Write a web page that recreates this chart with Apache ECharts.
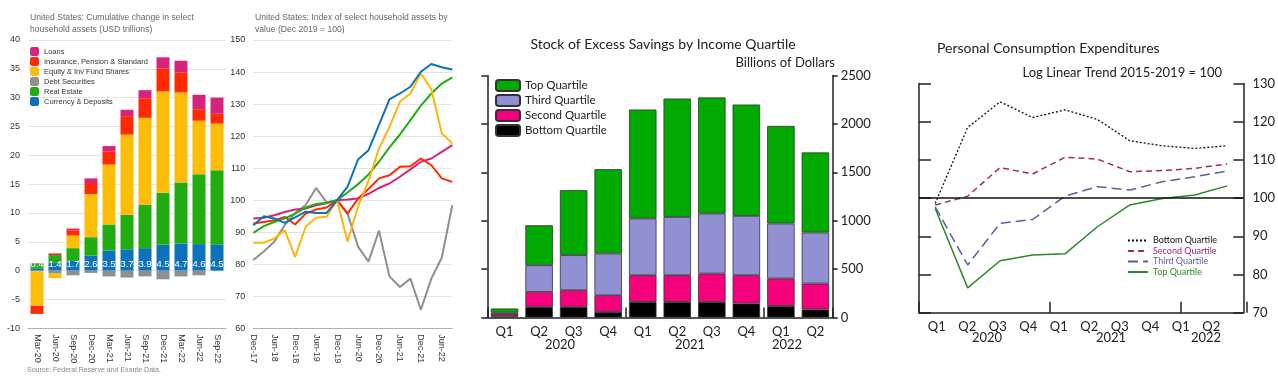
<!DOCTYPE html>
<html><head><meta charset="utf-8">
<script src="https://cdn.jsdelivr.net/npm/echarts@6/dist/echarts.min.js"></script>
<style>html,body{margin:0;padding:0;background:#fff}#c{width:1278px;height:384px}</style>
</head><body><div id="c"></div>
<script>
// ---------- Chart 1: cumulative change (USD trillions) ----------
const c1Cats = ['Mar-20','Jun-20','Sep-20','Dec-20','Mar-21','Jun-21','Sep-21','Dec-21','Mar-22','Jun-22','Sep-22'];
const c1Currency  = [0.4,1.4,1.7,2.6,3.5,3.7,3.9,4.5,4.7,4.6,4.5];
const c1RealEst   = [0.8,1.3,2.2,3.2,4.5,6.0,7.5,9.0,10.6,12.1,12.9];
const c1Debt      = [-0.1,-0.5,-0.8,-0.4,-1.0,-1.2,-1.0,-1.5,-1.0,-0.8,0];
const c1Equity    = [-6.0,-0.8,2.2,7.5,10.4,13.9,15.1,17.6,15.6,9.3,8.1];
const c1Insurance = [-1.4,0.2,0.9,1.9,2.3,3.2,3.4,4.0,3.5,2.0,1.7];
const c1Loans     = [0.1,0.1,0.3,0.8,0.9,1.1,1.4,1.9,2.0,2.5,2.8];

// ---------- Chart 2: index (Dec 2019 = 100) ----------
const c2Cats = ['Dec-17','Mar-18','Jun-18','Sep-18','Dec-18','Mar-19','Jun-19','Sep-19','Dec-19','Mar-20','Jun-20','Sep-20','Dec-20','Mar-21','Jun-21','Sep-21','Dec-21','Mar-22','Jun-22','Sep-22'];
const c2Currency  = [92.2,95,94.3,92.9,94.6,96.4,96.0,96.0,100,104.2,112.7,115.6,123.5,131.5,133.3,135.4,140.1,142.5,141.5,140.8];
const c2RealEst   = [89.8,91.9,93.2,94.3,95.8,97.7,98.8,99.2,100,102.4,105,108,112,116.5,120.5,125,129.5,133.3,136.4,138.3];
const c2Equity    = [86.7,86.7,88,90.6,82.3,91.7,94.5,94.8,100,87,98,106,116.1,122.9,130.7,133.3,139.6,134.6,120.8,117.7];
const c2Insurance = [92.7,93.2,93.7,94.8,92.4,95.8,97.1,97.7,100,95.8,100.5,103.5,106.8,107.8,110.4,110.6,113,110.9,106.8,105.7];
const c2Loans     = [94.3,94.5,95.3,96.3,97.1,97.4,98.4,99,100,100.2,100.5,102,103.8,105.2,107.3,109.6,112,113,115.1,117.2];
const c2Debt      = [81.3,84,87,92.2,96,98.5,103.8,99.3,100,95.8,85.5,80.8,90.5,76.2,72.9,75.5,65.8,75.5,82.1,98.4];

// ---------- Chart 3: excess savings (billions) ----------
const c3Cats = ['Q1','Q2','Q3','Q4','Q1','Q2','Q3','Q4','Q1','Q2'];
const c3Bottom = [10,110,110,58,161,161,161,145,120,83];
const c3Second = [25,155,172,172,276,276,293,292,283,268];
const c3Third  = [15,275,362,431,586,602,620,613,568,527];
const c3Top    = [43,413,671,871,1126,1223,1199,1150,1008,827];

// ---------- Chart 4: PCE vs trend ----------
const c4Cats = ['Q1','Q2','Q3','Q4','Q1','Q2','Q3','Q4','Q1','Q2'];
const c4Bottom = [98.6,118.5,125.2,121.1,123.1,120.6,115.0,113.7,113.0,113.7];
const c4Second = [98.2,100.5,108.0,106.3,110.7,110.2,106.9,107.2,107.8,108.9];
const c4Third  = [97.7,82.5,93.4,94.4,100.5,103.0,102.1,104.3,105.6,107.1];
const c4Top    = [97.3,76.5,83.6,85.1,85.4,92.5,98.2,99.9,100.8,103.2];

const AR = 'Liberation Sans, Arial, sans-serif';
const MY = 'Lato, Noto Sans, sans-serif';
const col1 = {loans:'#d6247d', ins:'#ff2a00', eq:'#fbbd08', debt:'#8f8f8f', re:'#21ad12', cur:'#0b72bb'};
const col3 = {top:'#00aa00', third:'#9090d2', second:'#f5007d', bottom:'#000000'};
const col4 = {bottom:'#111111', second:'#a3286f', third:'#5c5ca8', top:'#2a8a2a'};
const Z = '\u200b';

const chart = echarts.init(document.getElementById('c'), null, {renderer:'canvas'});

function bar1(name, data, color, extra){
  return Object.assign({type:'bar', name, data, stack:'c1', xAxisIndex:0, yAxisIndex:0,
    barWidth:13, itemStyle:{color}, emphasis:{disabled:true}}, extra||{});
}
function line2(name, data, color){
  return {type:'line', name, data, xAxisIndex:1, yAxisIndex:1, symbol:'none',
    lineStyle:{color, width:2}, itemStyle:{color}, z:3};
}
function bar3(name, data, color){
  return {type:'bar', name, data, stack:'c3', xAxisIndex:2, yAxisIndex:2, barWidth:27.5,
    itemStyle:{color, borderColor:'#333', borderWidth:0.8}};
}
function line4(name, data, color, type, width, extra){
  return Object.assign({type:'line', name, data, xAxisIndex:3, yAxisIndex:4, symbol:'none',
    lineStyle:{color, width:width, type:type}, itemStyle:{color}}, extra||{});
}
const plain = v => String(v);
const tickLine = {color:'#222', width:1.5};

const option = {
  animation:false,
  textStyle:{fontFamily:AR},
  grid:[
    {left:28, top:40, width:198, height:288.3},          // 0 chart1
    {left:253.3, top:40, width:199, height:288.3},       // 1 chart2
    {left:487.3, top:75.5, width:345.4, height:242},     // 2 chart3
    {left:919, top:83.5, width:327.7, height:229.2},     // 3 chart4
    {left:921.5, top:83.5, width:305, height:229.2},     // 4 chart4 labels
    {left:487.3, top:75.5, width:345.4, height:242},     // 5 chart3 year ticks
    {left:919, top:83.5, width:327.7, height:229.2}      // 6 chart4 year ticks
  ],
  xAxis:[
    {gridIndex:0, type:'category', data:c1Cats, axisLine:{onZero:false, lineStyle:{color:'#b0b0b0'}},
     axisTick:{show:false}, axisLabel:{rotate:-90, fontSize:9, color:'#333', margin:6, fontFamily:AR}},
    {gridIndex:1, type:'category', data:c2Cats, boundaryGap:false, axisLine:{lineStyle:{color:'#b0b0b0'}},
     axisTick:{show:false}, axisLabel:{rotate:-90, fontSize:9, color:'#333', margin:6, interval:1, fontFamily:AR}},
    {gridIndex:2, type:'category', data:c3Cats, axisLine:{lineStyle:tickLine},
     axisTick:{inside:true, length:4, lineStyle:tickLine},
     axisLabel:{fontSize:13, color:'#222', margin:8, fontFamily:MY}},
    {gridIndex:3, type:'category', data:c4Cats, axisLine:{lineStyle:tickLine},
     axisTick:{inside:true, length:5, lineStyle:tickLine}, axisLabel:{show:false}},
    {gridIndex:4, type:'category', data:c4Cats, axisLine:{show:false}, axisTick:{show:false},
     axisLabel:{fontSize:13, color:'#222', margin:8, fontFamily:MY}},
    {gridIndex:5, type:'value', min:0, max:10, interval:4, axisLine:{show:false}, splitLine:{show:false},
     axisLabel:{show:false}, axisTick:{show:true, inside:true, length:10, lineStyle:tickLine}},
    {gridIndex:6, type:'value', min:0, max:10, interval:4, axisLine:{show:false}, splitLine:{show:false},
     axisLabel:{show:false}, axisTick:{show:true, inside:true, length:11, lineStyle:tickLine}}
  ],
  yAxis:[
    {gridIndex:0, type:'value', min:-10, max:40, interval:5, axisLine:{show:false}, axisTick:{show:false},
     splitLine:{lineStyle:{color:'#e3e3e3'}}, axisLabel:{fontSize:9, color:'#333', margin:8, fontFamily:AR}},
    {gridIndex:1, type:'value', min:60, max:150, interval:10, axisLine:{show:false}, axisTick:{show:false},
     splitLine:{lineStyle:{color:'#e3e3e3'}}, axisLabel:{fontSize:9, color:'#333', margin:8, fontFamily:AR}},
    {gridIndex:2, type:'value', position:'right', min:0, max:2500, interval:500,
     axisLine:{show:true, lineStyle:tickLine}, axisTick:{show:true, length:5, lineStyle:tickLine},
     splitLine:{show:false}, axisLabel:{fontSize:13, color:'#222', margin:8, fontFamily:MY, formatter:plain}},
    {gridIndex:2, type:'value', position:'left', min:0, max:2500, interval:500,
     axisLine:{show:true, lineStyle:tickLine}, axisTick:{show:true, length:6, lineStyle:tickLine},
     splitLine:{show:false}, axisLabel:{show:false}},
    {gridIndex:3, type:'value', position:'right', min:70, max:130, interval:10,
     axisLine:{show:true, lineStyle:tickLine}, axisTick:{show:true, inside:true, length:10, lineStyle:tickLine},
     splitLine:{show:false}, axisLabel:{fontSize:13, color:'#222', margin:9, fontFamily:MY}},
    {gridIndex:3, type:'value', position:'left', min:70, max:130, interval:10,
     axisLine:{show:true, lineStyle:tickLine}, axisTick:{show:true, inside:true, length:12, lineStyle:tickLine},
     splitLine:{show:false}, axisLabel:{show:false}},
    {gridIndex:4, type:'value', show:false, min:0, max:1},
    {gridIndex:5, type:'value', show:false, min:0, max:1},
    {gridIndex:6, type:'value', show:false, min:0, max:1}
  ],
  legend:[
    {left:30, top:47, padding:0, orient:'vertical', itemWidth:9, itemHeight:9, itemGap:1, selectedMode:false,
     textStyle:{fontSize:7.5, color:'#333', fontFamily:AR},
     data:['Loans','Insurance, Pension & Standard','Equity & Inv Fund Shares','Debt Securities','Real Estate','Currency & Deposits']},
    {left:495, top:79, padding:0, orient:'vertical', itemWidth:24, itemHeight:11, itemGap:2, selectedMode:false,
     textStyle:{fontSize:11.5, color:'#222', fontFamily:MY},
     data:['Top Quartile','Third Quartile','Second Quartile','Bottom Quartile']},
    {left:1127, top:236, padding:0, orient:'vertical', itemWidth:20, itemHeight:8, itemGap:1.5, selectedMode:false,
     itemStyle:{opacity:0},
     textStyle:{fontSize:9, fontFamily:MY},
     data:[{name:'Bottom Quartile'+Z, textStyle:{color:col4.bottom}},
           {name:'Second Quartile'+Z, textStyle:{color:col4.second}},
           {name:'Third Quartile'+Z, textStyle:{color:col4.third}},
           {name:'Top Quartile'+Z, textStyle:{color:col4.top}}]}
  ],
  graphic:[
    {type:'text', left:30, top:12, style:{text:'United States: Cumulative change in select\nhousehold assets (USD trillions)', fontSize:8.6, lineHeight:12, fill:'#666', fontFamily:AR}},
    {type:'text', left:255, top:12, style:{text:'United States: Index of select household assets by\nvalue (Dec 2019 = 100)', fontSize:8.6, lineHeight:12, fill:'#666', fontFamily:AR}},
    {type:'text', left:27, top:367, style:{text:'Source: Federal Reserve and Exante Data.', fontSize:7, fill:'#888', fontFamily:AR}},
    {type:'text', x:663, y:44, style:{text:'Stock of Excess Savings by Income Quartile', fontSize:14, fill:'#222', fontFamily:MY, textAlign:'center', textVerticalAlign:'middle'}},
    {type:'text', x:835, y:63, style:{text:'Billions of Dollars', fontSize:13, fill:'#222', fontFamily:MY, textAlign:'right', textVerticalAlign:'middle'}},
    {type:'text', x:560, y:345, style:{text:'2020', fontSize:13, fill:'#222', fontFamily:MY, textAlign:'center', textVerticalAlign:'middle'}},
    {type:'text', x:690, y:345, style:{text:'2021', fontSize:13, fill:'#222', fontFamily:MY, textAlign:'center', textVerticalAlign:'middle'}},
    {type:'text', x:787, y:345, style:{text:'2022', fontSize:13, fill:'#222', fontFamily:MY, textAlign:'center', textVerticalAlign:'middle'}},
    {type:'text', x:937, y:48, style:{text:'Personal Consumption Expenditures', fontSize:14, fill:'#222', fontFamily:MY, textAlign:'left', textVerticalAlign:'middle'}},
    {type:'text', x:1222, y:73, style:{text:'Log Linear Trend 2015-2019 = 100', fontSize:13, fill:'#222', fontFamily:MY, textAlign:'right', textVerticalAlign:'middle'}},
    {type:'text', x:987, y:338, style:{text:'2020', fontSize:13, fill:'#222', fontFamily:MY, textAlign:'center', textVerticalAlign:'middle'}},
    {type:'text', x:1111, y:338, style:{text:'2021', fontSize:13, fill:'#222', fontFamily:MY, textAlign:'center', textVerticalAlign:'middle'}},
    {type:'text', x:1206, y:338, style:{text:'2022', fontSize:13, fill:'#222', fontFamily:MY, textAlign:'center', textVerticalAlign:'middle'}}
  ],
  series:[
    bar1('Currency & Deposits', c1Currency, col1.cur, {label:{show:true, position:'insideBottom', distance:1, color:'#fff', fontSize:9.5, fontFamily:AR}}),
    bar1('Real Estate', c1RealEst, col1.re),
    bar1('Debt Securities', c1Debt, col1.debt),
    bar1('Equity & Inv Fund Shares', c1Equity, col1.eq),
    bar1('Insurance, Pension & Standard', c1Insurance, col1.ins),
    bar1('Loans', c1Loans, col1.loans),

    line2('idx Debt', c2Debt, '#8f8f8f'),
    line2('idx Loans', c2Loans, '#d6247d'),
    line2('idx Insurance', c2Insurance, '#ff2a00'),
    line2('idx Real Estate', c2RealEst, '#21ad12'),
    line2('idx Equity', c2Equity, '#fbb808'),
    line2('idx Currency', c2Currency, '#0b72bb'),

    bar3('Bottom Quartile', c3Bottom, col3.bottom),
    bar3('Second Quartile', c3Second, col3.second),
    bar3('Third Quartile', c3Third, col3.third),
    bar3('Top Quartile', c3Top, col3.top),

    line4('Top Quartile'+Z, c4Top, col4.top, 'solid', 1.5,
      {markLine:{silent:true, symbol:'none', label:{show:false}, lineStyle:{color:'#111', width:1.5, type:'solid'}, data:[{yAxis:100}]}}),
    line4('Third Quartile'+Z, c4Third, col4.third, [10,5], 1.5),
    line4('Second Quartile'+Z, c4Second, col4.second, [6,4], 1.5),
    line4('Bottom Quartile'+Z, c4Bottom, col4.bottom, [2,2], 1.3)
  ]
};
chart.setOption(option);
</script></body></html>
